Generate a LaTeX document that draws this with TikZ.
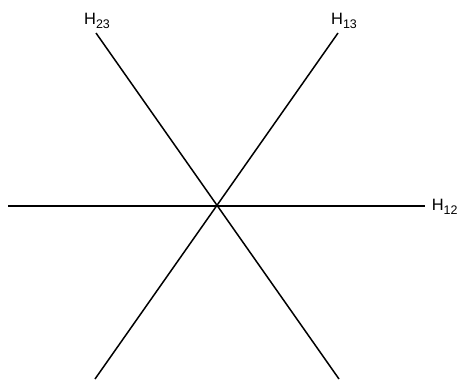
\documentclass[tikz,border=0pt]{standalone}
\usepackage{fontspec}
\setmainfont{Liberation Sans}
\newcommand{\hyp}[1]{H\raisebox{-0.25em}{\fontsize{12.5}{14}\selectfont #1}}

\begin{document}
\begin{tikzpicture}[x=1bp, y=-1bp, line width=1.5bp]
    \useasboundingbox (0,0) rectangle (458,380);
    % Draw end points
    \coordinate (o) at (217,206);
    \coordinate (l) at (8,206);
    \coordinate (r) at (425,206);
    \coordinate (tl) at (96,33);
    \coordinate (br) at (339,379);
    \coordinate (tr) at (338,33);
    \coordinate (bl) at (95,379);

    % Draw lines
    \draw (l) -- (r);
    \draw (tl) -- (br);
    \draw (tr) -- (bl);

    % Labels
    \node[font=\fontsize{16.5}{18}\selectfont, anchor=west, inner sep=0pt] (h12) at (431,207) {\hyp{12}};
    \node[font=\fontsize{16.5}{18}\selectfont, inner sep=0pt] (h23) at (97,21) {\hyp{23}};
    \node[font=\fontsize{16.5}{18}\selectfont, inner sep=0pt] (h13) at (344,21) {\hyp{13}};
\end{tikzpicture}
\end{document}
